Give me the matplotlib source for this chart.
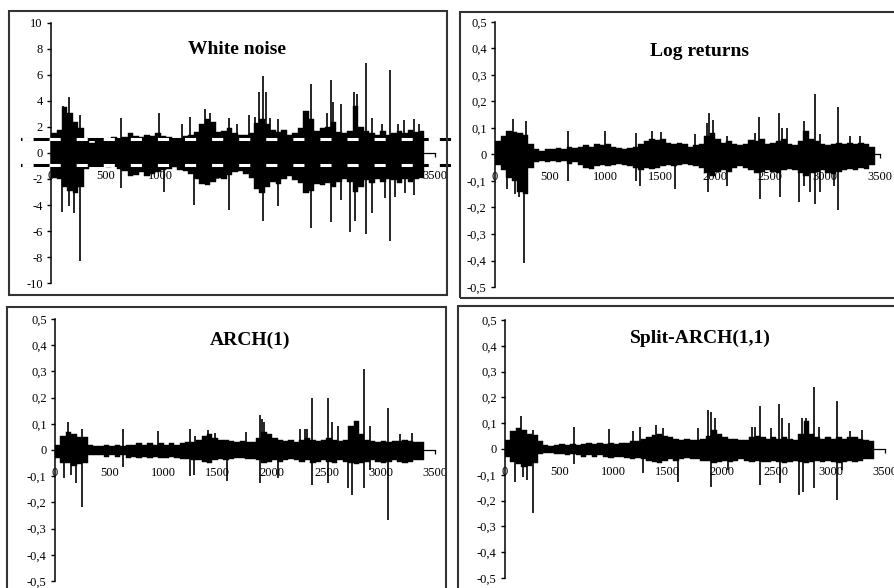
import matplotlib
matplotlib.use("Agg")
import matplotlib.pyplot as plt
from matplotlib.patches import Rectangle
import numpy as np

plt.rcParams['font.family'] = ['Liberation Serif', 'DejaVu Serif']
plt.rcParams['axes.unicode_minus'] = False
plt.rcParams['lines.scale_dashes'] = False

BIN = 50  # width of one band block, in observations
x_ticks = [0, 500, 1000, 1500, 2000, 2500, 3000, 3500]

# ---- white noise: band envelope per 50 obs, plus isolated spikes
wn_hi = [1.5, 1.8, 3.5, 3.1, 2.4, 1.9, 1.0, 0.8, 0.9, 1.1,
         1.0, 1.2, 1.0, 1.2, 1.5, 1.3, 1.2, 1.4, 1.3, 1.5,
         1.3, 1.2, 1.0, 1.1, 1.3, 1.4, 1.6, 2.2, 2.6, 2.4,
         1.6, 1.7, 1.9, 1.5, 1.4, 1.4, 1.5, 2.3, 2.6, 2.2,
         1.8, 1.6, 1.8, 1.4, 1.5, 1.9, 3.2, 2.6, 1.7, 1.9,
         2.0, 2.4, 1.6, 1.5, 1.7, 3.6, 2.0, 1.7, 1.5, 1.4,
         1.7, 1.4, 1.5, 1.7, 1.5, 1.8, 1.6, 1.7]
wn_lo = [-1.9, -2.0, -2.6, -2.9, -3.1, -2.6, -1.2, -0.9, -1.0, -1.0,
         -1.1, -1.0, -1.2, -1.4, -1.8, -1.7, -1.5, -1.8, -1.6, -1.5,
         -1.3, -1.2, -1.1, -1.3, -1.4, -1.6, -2.0, -2.4, -2.5, -2.2,
         -1.9, -2.0, -1.7, -1.5, -1.4, -1.6, -1.9, -2.8, -3.1, -2.6,
         -2.2, -2.4, -2.0, -1.8, -2.1, -2.3, -3.1, -2.9, -2.4, -2.5,
         -2.3, -2.6, -2.2, -2.0, -2.2, -3.0, -2.6, -2.1, -2.3, -2.0,
         -2.2, -2.0, -2.1, -2.3, -2.0, -2.2, -2.0, -1.9]
wn_spike_x = [100, 109, 161, 161, 212, 267, 267, 638, 638, 981, 1027, 1193, 1269, 1300, 1406, 1451, 1619, 1619, 1694,
              1801, 1855, 1892, 1928, 1928, 1959, 1998, 2068, 2068, 2302, 2372, 2372, 2514, 2551, 2551, 2569, 2642, 2642,
              2727, 2763, 2766, 2788, 2873, 2873, 2924, 2924, 3015, 3046, 3086, 3086, 3137, 3161, 3213, 3228, 3304, 3304, 3350]
wn_spike_y = [-4.5, 3.6, 4.3, -4.1, -4.6, 2.9, -8.3, 2.7, -2.7, 3.1, -3.0, 2.2, 2.8, -4.0, 3.4, 3.1, 2.7, -4.4, 2.2,
              2.9, 2.8, 4.7, 5.9, -5.2, 4.7, 2.7, 2.6, -4.1, 3.2, 5.3, -5.8, 3.1, 5.6, -5.3, 3.9, 3.8, -3.6,
              -6.1, 4.7, -5.2, 4.5, 6.9, -6.2, 2.7, -4.6, 2.2, -3.5, 6.4, -6.8, -3.4, 2.2, 2.5, -3.1, 2.6, -3.2, 2.2]
wn_bands = [1.1, -0.9]

# ---- log returns
lr_hi = [0.05, 0.07, 0.09, 0.085, 0.08, 0.075, 0.04, 0.02, 0.015, 0.02,
         0.02, 0.025, 0.02, 0.03, 0.025, 0.03, 0.035, 0.03, 0.04, 0.035,
         0.04, 0.03, 0.025, 0.02, 0.025, 0.03, 0.04, 0.05, 0.06, 0.055,
         0.06, 0.045, 0.04, 0.045, 0.04, 0.03, 0.035, 0.04, 0.07, 0.08,
         0.06, 0.045, 0.05, 0.04, 0.035, 0.04, 0.055, 0.05, 0.06, 0.04,
         0.045, 0.05, 0.06, 0.04, 0.035, 0.05, 0.09, 0.06, 0.05, 0.04,
         0.035, 0.04, 0.045, 0.04, 0.045, 0.04, 0.045, 0.04, 0.03]
lr_lo = [-0.04, -0.06, -0.09, -0.1, -0.14, -0.15, -0.05, -0.03, -0.025, -0.03,
         -0.025, -0.03, -0.025, -0.035, -0.03, -0.04, -0.05, -0.055, -0.045, -0.04,
         -0.045, -0.04, -0.035, -0.04, -0.045, -0.05, -0.06, -0.05, -0.055, -0.05,
         -0.045, -0.04, -0.045, -0.04, -0.035, -0.04, -0.045, -0.05, -0.07, -0.08,
         -0.065, -0.06, -0.065, -0.05, -0.045, -0.05, -0.06, -0.07, -0.065, -0.06,
         -0.065, -0.07, -0.06, -0.055, -0.06, -0.07, -0.08, -0.07, -0.065, -0.06,
         -0.07, -0.075, -0.065, -0.06, -0.055, -0.06, -0.05, -0.055, -0.04]
lr_spike_x = [106, 161, 182, 220, 267, 282, 661, 660, 1000, 1279, 1279, 1318, 1430, 1506, 1636,
              1818, 1930, 1939, 1945, 1985, 2106, 2106, 2360, 2400, 2409, 2584, 2591, 2610, 2655,
              2766, 2806, 2810, 2860, 2906, 2906, 2955, 2955, 3080, 3121, 3121, 3230, 3320]
lr_spike_y = [-0.13, 0.135, -0.15, -0.16, -0.41, 0.128, 0.09, -0.10, 0.09, 0.08, -0.10, -0.12, 0.09, 0.085, -0.13,
              0.078, 0.12, -0.142, 0.156, 0.13, 0.07, -0.12, 0.08, 0.14, -0.167, 0.156, -0.16, 0.10, 0.10,
              -0.18, 0.128, -0.12, -0.14, 0.229, -0.186, 0.078, -0.14, -0.12, 0.178, -0.209, 0.07, 0.07]

# ---- ARCH(1)
arch_hi = [0.02, 0.055, 0.07, 0.06, 0.05, 0.05, 0.02, 0.015, 0.015, 0.02,
           0.015, 0.02, 0.015, 0.02, 0.02, 0.025, 0.02, 0.025, 0.02, 0.025,
           0.02, 0.025, 0.02, 0.025, 0.03, 0.03, 0.04, 0.055, 0.06, 0.045,
           0.04, 0.04, 0.035, 0.03, 0.035, 0.03, 0.03, 0.045, 0.07, 0.06,
           0.045, 0.04, 0.035, 0.04, 0.03, 0.04, 0.045, 0.04, 0.035, 0.04,
           0.045, 0.04, 0.035, 0.04, 0.09, 0.11, 0.06, 0.04, 0.035, 0.03,
           0.035, 0.03, 0.035, 0.035, 0.04, 0.035, 0.03, 0.03]
arch_lo = [-0.03, -0.05, -0.05, -0.06, -0.055, -0.05, -0.02, -0.02, -0.02, -0.025,
           -0.02, -0.025, -0.02, -0.03, -0.025, -0.03, -0.025, -0.03, -0.025, -0.03,
           -0.03, -0.025, -0.03, -0.035, -0.035, -0.04, -0.04, -0.045, -0.05, -0.04,
           -0.035, -0.04, -0.035, -0.03, -0.03, -0.035, -0.035, -0.04, -0.05, -0.045,
           -0.04, -0.045, -0.04, -0.035, -0.04, -0.045, -0.04, -0.05, -0.045, -0.04,
           -0.045, -0.05, -0.04, -0.045, -0.05, -0.055, -0.05, -0.045, -0.04, -0.045,
           -0.05, -0.045, -0.04, -0.045, -0.05, -0.045, -0.04, -0.04]
arch_spike_x = [83, 123, 144, 193, 246, 252, 629, 629, 952, 1243, 1243, 1280, 1290, 1410, 1475, 1581,
                1760, 1885, 1888, 1905, 1928, 2057, 2256, 2300, 2318, 2364, 2364, 2518, 2518, 2555, 2610,
                2702, 2739, 2849, 2849, 2901, 2901, 3064, 3064, 3180, 3290]
arch_spike_y = [-0.108, 0.108, -0.095, -0.127, 0.08, -0.216, 0.08, -0.064, 0.073, 0.08, -0.1, -0.095, 0.055, 0.076, 0.065, -0.12,
                0.07, 0.134, -0.127, 0.12, 0.108, -0.108, 0.08, 0.08, 0.08, 0.197, -0.134, 0.197, -0.127, 0.108, 0.09,
                -0.146, -0.17, 0.31, -0.146, 0.09, -0.076, 0.162, -0.267, 0.06, 0.065]

# ---- Split-ARCH(1,1)
split_hi = [0.035, 0.07, 0.08, 0.075, 0.06, 0.055, 0.03, 0.015, 0.012, 0.015,
            0.02, 0.015, 0.02, 0.015, 0.02, 0.025, 0.02, 0.025, 0.02, 0.025,
            0.02, 0.025, 0.025, 0.03, 0.03, 0.04, 0.045, 0.055, 0.06, 0.05,
            0.045, 0.04, 0.035, 0.04, 0.035, 0.035, 0.04, 0.05, 0.075, 0.06,
            0.045, 0.04, 0.04, 0.035, 0.035, 0.045, 0.05, 0.045, 0.04, 0.045,
            0.04, 0.045, 0.04, 0.035, 0.06, 0.11, 0.06, 0.045, 0.04, 0.045,
            0.04, 0.045, 0.04, 0.045, 0.045, 0.04, 0.035, 0.03]
split_lo = [-0.03, -0.05, -0.06, -0.07, -0.065, -0.055, -0.02, -0.015, -0.015, -0.02,
            -0.02, -0.025, -0.02, -0.025, -0.03, -0.025, -0.03, -0.025, -0.03, -0.035,
            -0.03, -0.03, -0.035, -0.04, -0.035, -0.04, -0.045, -0.05, -0.055, -0.045,
            -0.04, -0.045, -0.04, -0.035, -0.04, -0.04, -0.045, -0.045, -0.055, -0.05,
            -0.045, -0.05, -0.045, -0.04, -0.045, -0.05, -0.045, -0.05, -0.05, -0.045,
            -0.05, -0.055, -0.05, -0.045, -0.05, -0.055, -0.05, -0.045, -0.05, -0.045,
            -0.05, -0.055, -0.05, -0.045, -0.05, -0.045, -0.04, -0.04]
split_spike_x = [92, 92, 147, 169, 205, 255, 255, 635, 635, 958, 1182, 1243, 1274, 1390, 1452, 1596,
                 1775, 1873, 1897, 1897, 1934, 2057, 2272, 2303, 2349, 2349, 2450, 2524, 2533, 2555, 2619,
                 2711, 2740, 2742, 2770, 2849, 2849, 2895, 3055, 3055, 3100, 3180, 3285]
split_spike_y = [0.06, -0.127, 0.128, -0.107, -0.12, 0.074, -0.247, 0.087, -0.058, 0.076, 0.07, 0.084, -0.094, 0.093, 0.08, -0.127,
                 0.08, 0.15, 0.145, -0.146, 0.12, -0.081, 0.087, 0.087, 0.167, -0.14, 0.08, 0.174, -0.133, 0.12, 0.1,
                 -0.178, 0.12, -0.165, 0.12, 0.24, -0.152, 0.087, 0.187, -0.198, -0.08, 0.07, 0.075]


def int_label(v):
    return str(int(round(v)))


def comma_label(v):
    if abs(v) < 1e-9:
        return "0"
    return ("%.1f" % v).replace(".", ",")


def panel(fig, rect, hi, lo, sx, sy, ylim, yticks, fmt):
    ax = fig.add_axes(rect)
    starts = np.arange(len(hi)) * BIN
    hi = np.array(hi)
    lo = np.array(lo)
    ax.bar(starts, hi - lo, bottom=lo, width=BIN, align='edge',
           color='black', edgecolor='black', linewidth=0.3)
    ax.vlines(sx, 0, sy, color='black', linewidth=1.2)
    ax.set_xlim(0, 3500)
    ax.set_ylim(*ylim)
    ax.set_axisbelow(True)
    for s in ['top', 'right']:
        ax.spines[s].set_visible(False)
    ax.spines['left'].set_linewidth(1.1)
    ax.spines['bottom'].set_position(('data', 0))
    ax.spines['bottom'].set_linewidth(0.9)
    ax.set_yticks(yticks)
    ax.set_yticklabels([fmt(v) for v in yticks])
    ax.set_xticks(x_ticks)
    ax.set_xticklabels([str(t) for t in x_ticks])
    ax.tick_params(axis='y', direction='out', length=3, width=1, labelsize=9, pad=3)
    ax.tick_params(axis='x', direction='out', length=3, width=0.9, labelsize=9, pad=9)
    ax.patch.set_alpha(0)
    return ax


fig = plt.figure(figsize=(8.95, 5.88), dpi=100)

# panel frames
frames = [(0.0101, 0.4983, 0.4894, 0.4830),
          (0.5140, 0.4932, 0.5000, 0.4864),
          (0.0078, -0.0200, 0.4905, 0.4979),
          (0.5117, -0.0200, 0.5000, 0.4996)]
for f in frames:
    fig.add_artist(Rectangle((f[0], f[1]), f[2], f[3], transform=fig.transFigure,
                             fill=False, edgecolor='#333333', linewidth=1.5))

ax1 = panel(fig, [0.0570, 0.5187, 0.4291, 0.4422], wn_hi, wn_lo, wn_spike_x, wn_spike_y,
            (-10, 10), list(range(-10, 11, 2)), int_label)
for b in wn_bands:
    ax1.plot([-265, 3625], [b, b], color='black', linewidth=2.2, clip_on=False, zorder=4)
    ax1.plot([-265, 3625], [b, b], color='white', linewidth=2.2, clip_on=False, zorder=5,
             dashes=(8, 11.5), dash_capstyle='butt')

small_ticks = [round(v, 1) for v in np.arange(-0.5, 0.51, 0.1)]
panel(fig, [0.5531, 0.5119, 0.4302, 0.4507], lr_hi, lr_lo, lr_spike_x, lr_spike_y,
      (-0.5, 0.5), small_ticks, comma_label)
panel(fig, [0.0615, 0.0119, 0.4246, 0.4456], arch_hi, arch_lo, arch_spike_x, arch_spike_y,
      (-0.5, 0.5), small_ticks, comma_label)
panel(fig, [0.5642, 0.0170, 0.4246, 0.4388], split_hi, split_lo, split_spike_x, split_spike_y,
      (-0.5, 0.5), small_ticks, comma_label)

titles = [("White noise", 237, 50), ("Log returns", 700, 52),
          ("ARCH(1)", 250, 340), ("Split-ARCH(1,1)", 700, 338)]
for t, px, py in titles:
    fig.text(px / 895, 1 - py / 588, t, ha='center', va='center',
             fontsize=14, fontweight='bold')

fig.savefig("out.png", dpi=100)
